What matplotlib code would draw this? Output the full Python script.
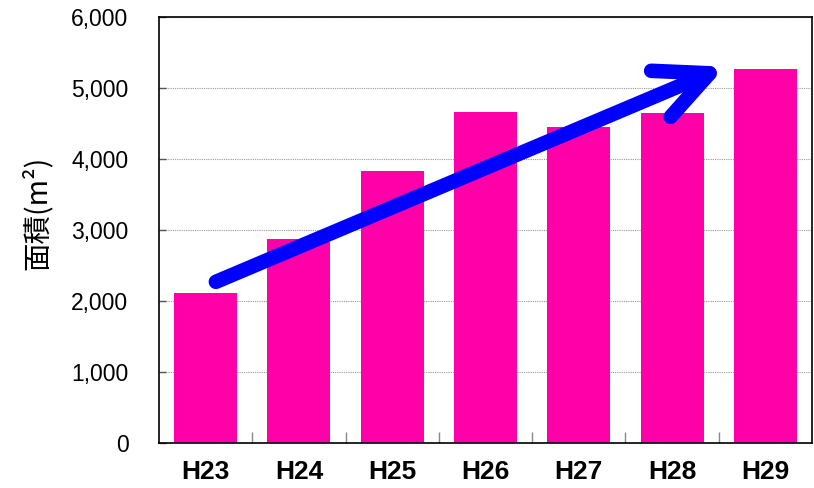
import matplotlib.pyplot as plt
import numpy as np

# values
years = ['H23', 'H24', 'H25', 'H26', 'H27', 'H28', 'H29']
area = [2110, 2875, 3830, 4665, 4450, 4645, 5270]
yticks = [0, 1000, 2000, 3000, 4000, 5000, 6000]

# trend arrow (decoration), in data coordinates: (category index, value)
arrow_tail = (0.11, 2270)
arrow_head = (5.57, 5300)

plt.rcParams['font.family'] = ['Liberation Sans', 'DejaVu Sans']

fig = plt.figure(figsize=(8.14, 4.88), dpi=100)
ax = fig.add_axes([0.1953, 0.0922, 0.8022, 0.873])

x = np.arange(len(years))
ax.bar(x, area, width=0.675, color='#FF00A8', zorder=2)

ax.set_xlim(-0.5, len(years) - 0.5)
ax.set_ylim(0, 6000)
ax.set_yticks(yticks)
ax.set_yticklabels([f'{v:,}' for v in yticks], fontsize=16.5)
ax.tick_params(axis='y', direction='in', length=5, width=1, pad=22, colors='#555555',
               labelcolor='black')

ax.set_xticks(x)
ax.set_xticklabels(years, fontsize=19, fontweight='bold')
ax.tick_params(axis='x', which='major', length=0, pad=12)
ax.set_xticks(x[:-1] + 0.5, minor=True)
ax.tick_params(axis='x', which='minor', direction='in', length=8, width=1, color='#888888')

ax.yaxis.grid(True, linestyle=(0, (1, 1)), color='#999999', linewidth=0.8, zorder=1)
for s in ax.spines.values():
    s.set_color('black')
    s.set_linewidth(1.2)

ax.set_ylabel('面積(m²)', fontsize=20.5, labelpad=13,
              family=['Noto Sans CJK JP', 'DejaVu Sans'])
ax.yaxis.label.set_y(0.54)

ax.annotate('', xy=arrow_head, xytext=arrow_tail,
            arrowprops=dict(arrowstyle='->,head_length=3.8,head_width=1.8',
                            mutation_scale=10, lw=10.5, color='#0000FF',
                            shrinkA=0, shrinkB=0, capstyle='round'),
            zorder=3)

plt.savefig('out.png', dpi=100)
